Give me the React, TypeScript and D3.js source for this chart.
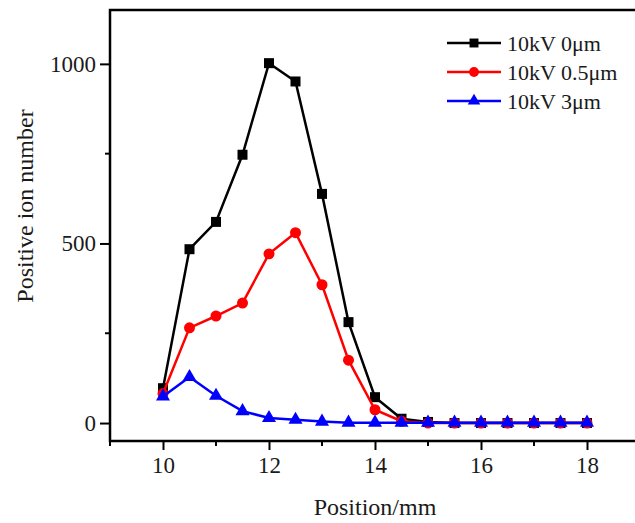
import React, { useEffect, useRef } from "react";
import * as d3 from "d3";

const positions = [10, 10.5, 11, 11.5, 12, 12.5, 13, 13.5, 14, 14.5, 15, 15.5, 16, 16.5, 17, 17.5, 18];
const ions0 = [97, 484, 560, 747, 1002, 951, 638, 281, 72, 12, 3, 0, 0, 0, 0, 0, 0];
const ions05 = [82, 265, 298, 334, 471, 530, 385, 175, 37, 5, 0, 0, 0, 0, 0, 0, 0];
const ions3 = [74, 128, 76, 33, 14, 9, 4, 1, 1, 1, 1, 1, 1, 1, 1, 1, 1];
const seriesNames = ["10kV 0\u03bcm", "10kV 0.5\u03bcm", "10kV 3\u03bcm"];
const xTicks = [10, 12, 14, 16, 18];
const yTicks = [0, 500, 1000];

const W = 635;
const H = 523;
const font = "Liberation Serif";

const App = () => {
  const svgRef = useRef<SVGSVGElement>(null);

  useEffect(() => {
    const svg = d3.select(svgRef.current);
    svg.selectAll("*").remove();

    const left = 110, right = 640, top = 10, bottom = 441;
    const x = d3.scaleLinear().domain([9, 19]).range([left, right]);
    const y = d3.scaleLinear().domain([-50, 1150]).range([bottom, top]);

    // minor ticks
    const minorX = d3.range(9, 19.01, 1).filter(v => v % 2 === 1);
    const minorY = [250, 750];
    svg.append("g").selectAll("line").data(minorX).join("line")
      .attr("x1", d => x(d)).attr("x2", d => x(d))
      .attr("y1", bottom).attr("y2", bottom + 5)
      .attr("stroke", "#000").attr("stroke-width", 2);
    svg.append("g").selectAll("line").data(minorY).join("line")
      .attr("y1", d => y(d)).attr("y2", d => y(d))
      .attr("x1", left).attr("x2", left - 5)
      .attr("stroke", "#000").attr("stroke-width", 2);

    const xAxis = d3.axisBottom(x).tickValues(xTicks).tickSize(9).tickPadding(7).tickFormat(d3.format("d"));
    const gx = svg.append("g").attr("transform", `translate(0,${bottom})`).call(xAxis);
    const yAxis = d3.axisLeft(y).tickValues(yTicks).tickSize(10).tickPadding(4).tickFormat(d3.format("d"));
    const gy = svg.append("g").attr("transform", `translate(${left},0)`).call(yAxis);
    [gx, gy].forEach(g => {
      g.attr("font-family", null).attr("font-size", null);
      g.select(".domain").remove();
      g.selectAll(".tick line").attr("stroke-width", 2);
      g.selectAll(".tick text").style("font-family", font).style("font-size", "23px").attr("fill", "#1a1a1a");
    });

    // frame
    svg.append("rect")
      .attr("x", left).attr("y", top)
      .attr("width", right - left).attr("height", bottom - top)
      .attr("fill", "none").attr("stroke", "#000").attr("stroke-width", 2.5);

    const series = [
      { name: seriesNames[0], values: ions0, color: "#000000", shape: d3.symbolSquare, size: 100 },
      { name: seriesNames[1], values: ions05, color: "#ff0000", shape: d3.symbolCircle, size: 95 },
      { name: seriesNames[2], values: ions3, color: "#0000ff", shape: d3.symbolTriangle, size: 85 },
    ];

    const line = d3.line<number>().x((_, i) => x(positions[i])).y(d => y(d));

    series.forEach(s => {
      const g = svg.append("g");
      g.append("path").datum(s.values).attr("d", line)
        .attr("fill", "none").attr("stroke", s.color).attr("stroke-width", 2.5);
      g.selectAll("path.m").data(s.values).join("path").attr("class", "m")
        .attr("transform", (d, i) => `translate(${x(positions[i])},${y(d)})`)
        .attr("d", d3.symbol().type(s.shape).size(s.size)())
        .attr("fill", s.color);
    });

    // legend
    const lg = svg.append("g");
    series.forEach((s, i) => {
      const cy = 43 + i * 29;
      lg.append("line").attr("x1", 447).attr("x2", 501).attr("y1", cy).attr("y2", cy)
        .attr("stroke", s.color).attr("stroke-width", 2.5);
      lg.append("path").attr("transform", `translate(474,${cy})`)
        .attr("d", d3.symbol().type(s.shape).size(s.size * 0.8)()).attr("fill", s.color);
      lg.append("text").attr("x", 507).attr("y", cy + 8)
        .style("font-family", font).style("font-size", "22px").attr("fill", "#1a1a1a").text(s.name);
    });

    // axis titles
    svg.append("text").attr("x", 375).attr("y", 515).attr("text-anchor", "middle")
      .style("font-family", font).style("font-size", "24px").attr("fill", "#1a1a1a").text("Position/mm");
    svg.append("text").attr("transform", "translate(33,206) rotate(-90)").attr("text-anchor", "middle")
      .style("font-family", font).style("font-size", "24px").attr("fill", "#1a1a1a").text("Positive ion number");
  }, []);

  return (
    <svg ref={svgRef} width={W} height={H}
      style={{ position: "absolute", left: 0, top: 0, background: "#fff" }} />
  );
};

export default App;
